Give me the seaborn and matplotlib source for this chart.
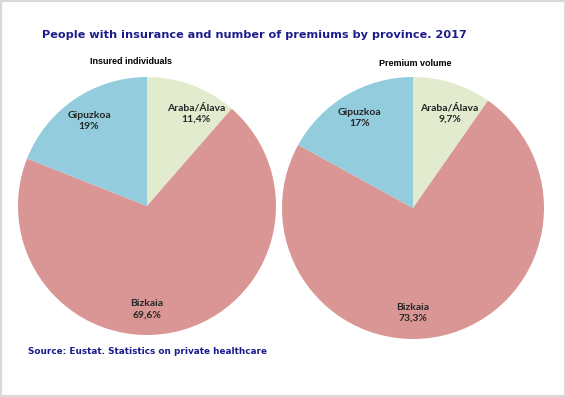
import matplotlib
matplotlib.use("Agg")
import matplotlib.pyplot as plt
import seaborn as sns
from matplotlib.patches import Rectangle

provinces = ["Araba/Álava", "Bizkaia", "Gipuzkoa"]
insured = [11.4, 69.6, 19.0]
premium = [9.7, 73.3, 17.0]
insured_labels = ["11,4%", "69,6%", "19%"]
premium_labels = ["9,7%", "73,3%", "17%"]
colors = ["#e3ebcf", "#d99694", "#93cddd"]

sns.set_theme(style="white")
plt.rcParams["font.family"] = ["DejaVu Sans"]

W, H = 566, 397
fig = plt.figure(figsize=(W / 100, H / 100), dpi=100)
fig.patch.set_facecolor("white")
fig.patches.append(Rectangle((0, 0), 1, 1, transform=fig.transFigure,
                             fill=False, edgecolor="#d9d9d9", linewidth=3))

navy = "#1c1c8c"
fig.text(254 / W, 1 - 35 / H, "People with insurance and number of premiums by province. 2017",
         ha="center", va="center", fontsize=8.1, fontweight="bold", color=navy)
fig.text(28 / W, 1 - 352 / H, "Source: Eustat. Statistics on private healthcare",
         ha="left", va="center", fontsize=6.4, fontweight="bold", color=navy)


def draw_pie(cx, cy, r, values, pcts, title, tx, ty, araba_pos):
    ax = fig.add_axes([(cx - r) / W, 1 - (cy + r) / H, 2 * r / W, 2 * r / H])
    labels = [f"{p}\n{v}" for p, v in zip(provinces, pcts)]
    wedges, texts = ax.pie(values, colors=colors, startangle=90, counterclock=False,
                           labels=labels, labeldistance=0.8,
                           wedgeprops=dict(linewidth=0),
                           textprops=dict(fontsize=7.5, fontweight="bold", color="#262626",
                                          family="Lato", linespacing=1.3))
    for t in texts:
        t.set_ha("center")
        t.set_va("center")
    texts[0].set_position(araba_pos)
    texts[1].set_position((0, -0.8))
    ax.set_xlim(-1, 1)
    ax.set_ylim(-1, 1)
    fig.text(tx / W, 1 - ty / H, title, ha="center", va="center",
             fontsize=6.5, fontweight="bold", color="black", family="Liberation Sans")


draw_pie(147, 206, 129, insured, insured_labels, "Insured individuals", 131, 62, (0.38, 0.72))
draw_pie(413, 208, 131, premium, premium_labels, "Premium volume", 415, 64, (0.28, 0.725))

fig.savefig("out.png", dpi=100)
